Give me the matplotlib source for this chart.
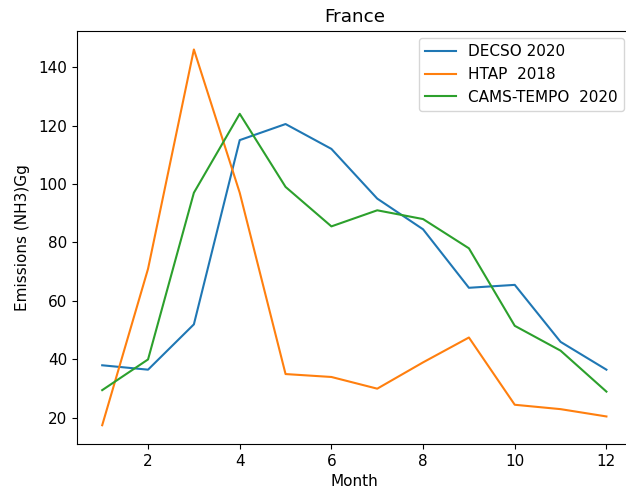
import matplotlib
matplotlib.use("Agg")
import matplotlib.pyplot as plt

plt.rcParams["font.size"] = 11

months = list(range(1, 13))
decso_2020 = [38, 36.5, 52, 115, 120.5, 112, 95, 84.5, 64.5, 65.5, 46, 36.5]
htap_2018 = [17.5, 71, 146, 97, 35, 34, 30, 39, 47.5, 24.5, 23, 20.5]
cams_tempo_2020 = [29.5, 40, 97, 124, 99, 85.5, 91, 88, 78, 51.5, 43, 29]

fig = plt.figure(figsize=(6.26, 4.95), dpi=100)
ax = fig.add_axes([0.123, 0.103, 0.886, 0.835])
ax.plot(months, decso_2020, label="DECSO 2020")
ax.plot(months, htap_2018, label="HTAP  2018")
ax.plot(months, cams_tempo_2020, label="CAMS-TEMPO  2020")
ax.set_title("France")
ax.set_xlabel("Month")
ax.set_ylabel("Emissions (NH3)Gg", labelpad=6)
ax.legend(loc="upper right")
fig.savefig("out.png", dpi=100)
